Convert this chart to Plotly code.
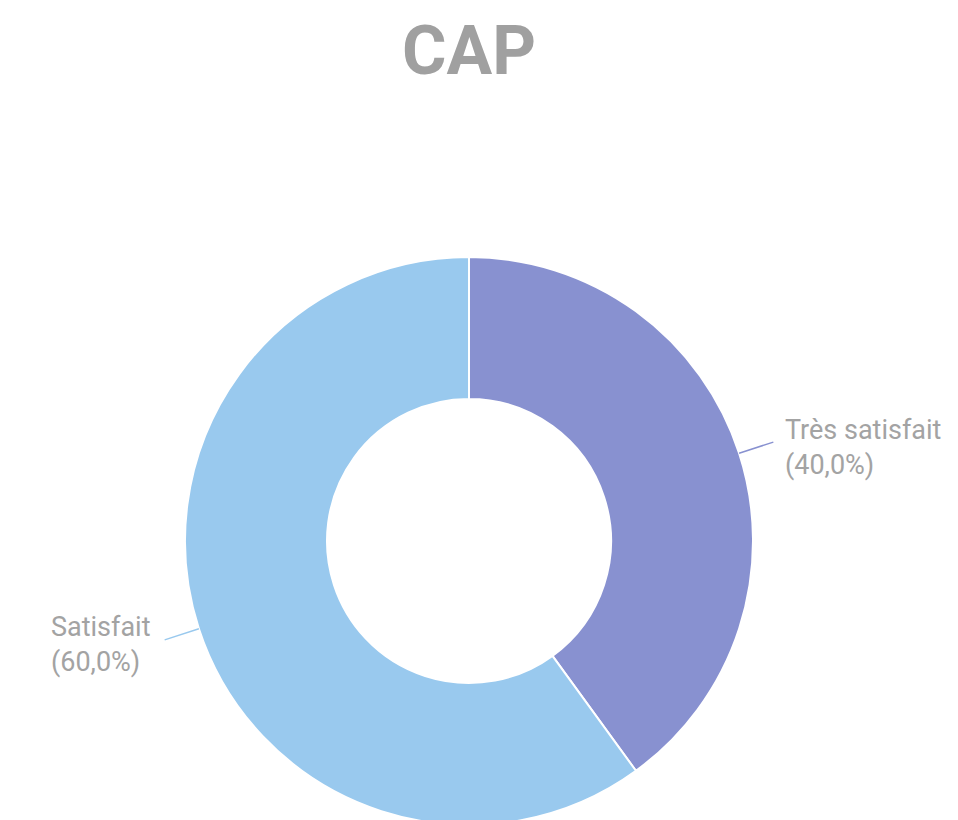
import numpy as np
import plotly.graph_objects as go

# Donut "CAP" - satisfaction breakdown
labels = ["Très satisfait", "Satisfait"]
values = [40.0, 60.0]
colors = ["#8891D0", "#99C9EE"]
title_text = "CAP"

W, H = 958, 820
OFF = 8                   # default body margin of the page
cx, r = 469 - OFF, 284    # pie centre x and outer radius, pixels
top = 257 - OFF           # top of the donut, pixels from the top
cy = top + r

fig = go.Figure()
fig.add_trace(
    go.Pie(
        labels=labels,
        values=values,
        hole=0.5,
        sort=False,
        direction="clockwise",
        rotation=0,
        marker=dict(colors=colors, line=dict(color="white", width=2)),
        textinfo="none",
        hoverinfo="label+percent",
        showlegend=False,
        domain=dict(x=[(cx - r) / W, (cx + r) / W], y=[1 - (top + 2 * r) / H, 1 - top / H]),
    )
)


def px(x, y):
    return x / W, 1 - y / H


# leader lines and labels at the middle of each slice
total = sum(values)
cum = 0
for lab, val, col in zip(labels, values, colors):
    mid = (cum + val / 2) / total * 2 * np.pi
    cum += val
    dx, dy = np.sin(mid), -np.cos(mid)
    x0, y0 = px(cx + r * dx, cy + r * dy)
    ex, ey = cx + (r + 36) * dx, cy + (r + 36) * dy
    x1, y1 = px(ex, ey)
    fig.add_shape(type="line", xref="paper", yref="paper", x0=x0, y0=y0, x1=x1, y1=y1,
                  line=dict(color=col, width=1.5))
    right = dx > 0
    tx, ty = px(ex + (10 if right else -12), ey + 5)
    pct = f"{val / total * 100:.1f}".replace(".", ",")
    fig.add_annotation(
        x=tx, y=ty, xref="paper", yref="paper",
        text=f"{lab}<br>({pct}%)",
        showarrow=False,
        xanchor="left" if right else "right",
        yanchor="middle",
        align="left",
        font=dict(family="Roboto", size=27, color="#A3A3A3"),
    )

fig.add_annotation(
    x=cx / W, y=1 - (51 - OFF) / H, xref="paper", yref="paper",
    text=f"<b>{title_text}</b>",
    showarrow=False,
    xanchor="center", yanchor="middle",
    font=dict(family="Roboto", size=68, color="#A0A0A0"),
)

fig.update_layout(
    width=W,
    height=H,
    margin=dict(l=0, r=0, t=0, b=0),
    paper_bgcolor="white",
    plot_bgcolor="white",
)

fig.write_html("out.html")
